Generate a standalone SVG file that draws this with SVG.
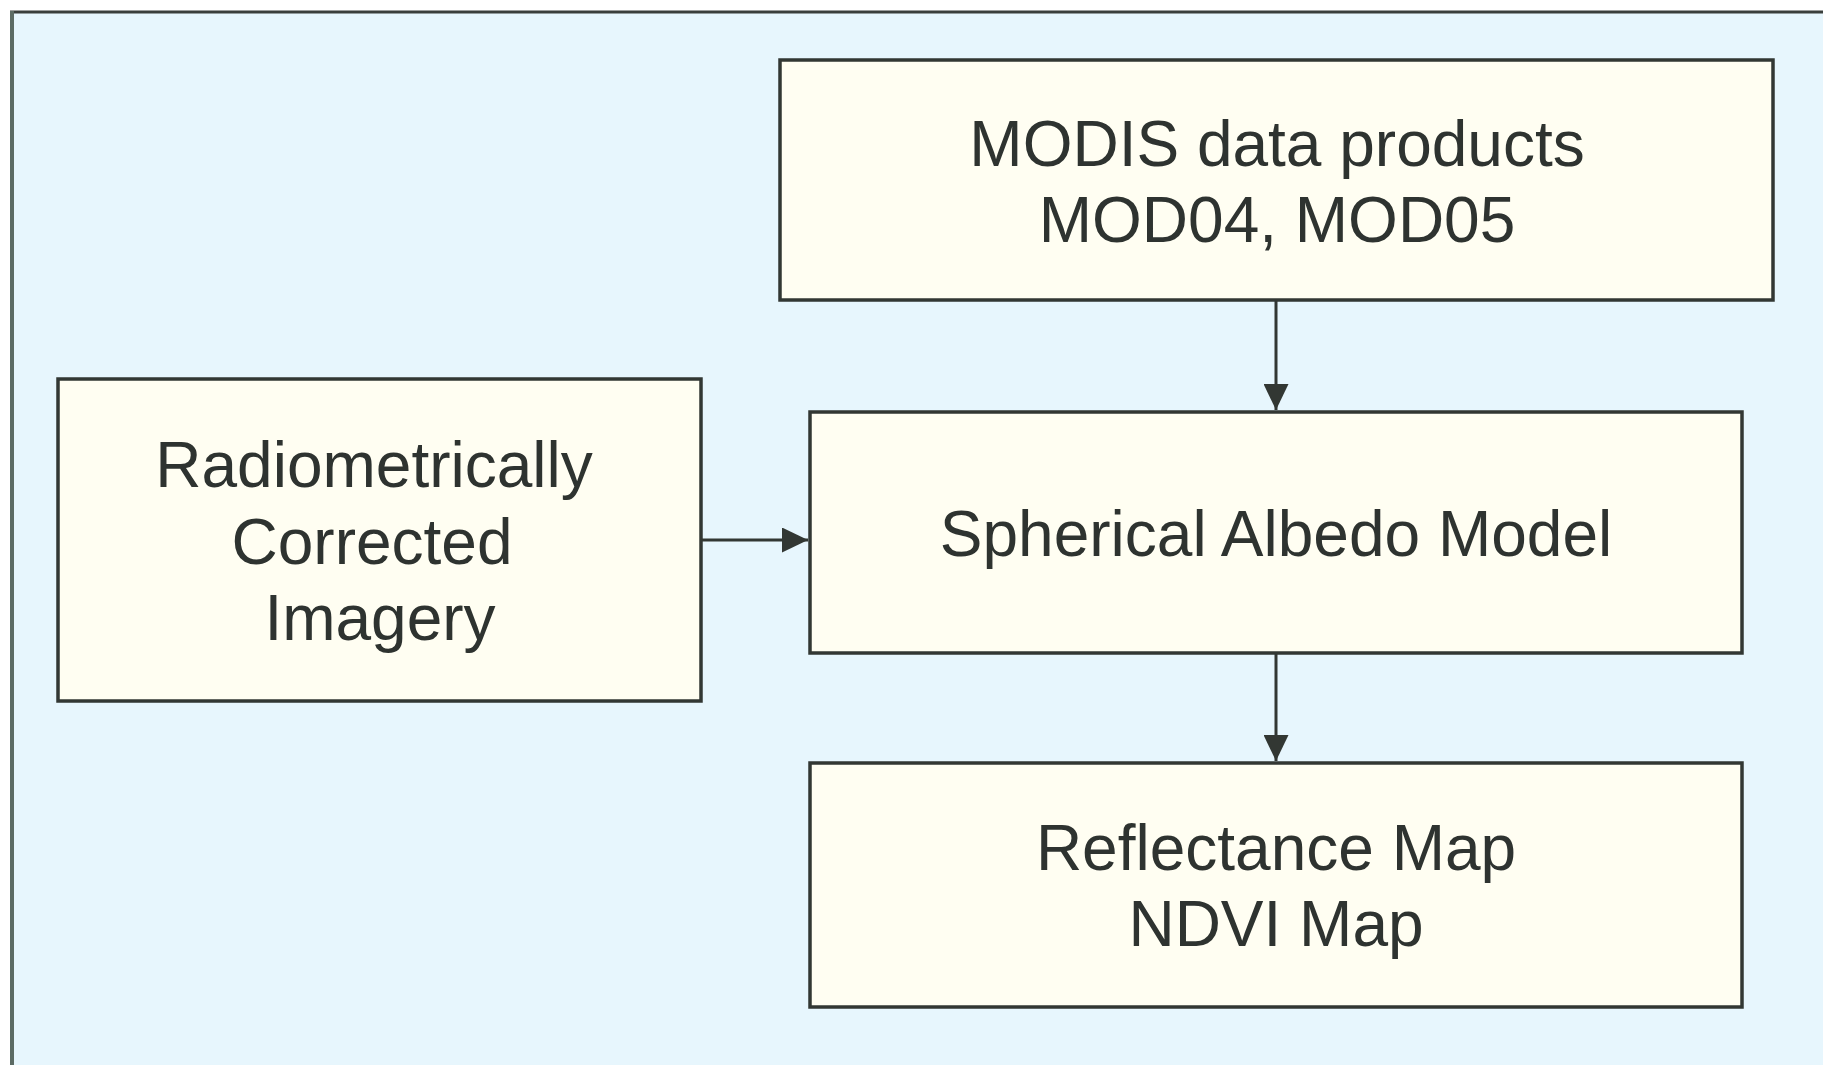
<svg xmlns="http://www.w3.org/2000/svg" width="1823" height="1065" viewBox="0 0 1823 1065">
<defs>
<style>
.box{fill:#fffef2;stroke:#323733;stroke-width:3.5}
.lbl{font-family:"Liberation Sans",Arial,sans-serif;font-size:64px;fill:#2e3330;text-anchor:middle}
.conn{stroke:#323733;stroke-width:3;fill:none}
</style>
<marker id="ah" viewBox="0 0 26 25" refX="26" refY="12.5" markerWidth="26" markerHeight="25" markerUnits="userSpaceOnUse" orient="auto">
<path d="M0,0 L26,12.5 L0,25 Z" fill="#323733"/>
</marker>
</defs>
<rect x="0" y="0" width="1823" height="1065" fill="#ffffff"/>
<g id="frame">
<rect x="12" y="12" width="1811" height="1053" fill="#e7f6fd"/>
<line x1="10" y1="12" x2="1823" y2="12" stroke="#3a3f3c" stroke-width="3"/>
<line x1="12" y1="11" x2="12" y2="1065" stroke="#5c6b64" stroke-width="4"/>
</g>
<g id="connectors">
<line class="conn" x1="1276" y1="300" x2="1276" y2="410" marker-end="url(#ah)"/>
<line class="conn" x1="701" y1="540" x2="808" y2="540" marker-end="url(#ah)"/>
<line class="conn" x1="1276" y1="653" x2="1276" y2="761" marker-end="url(#ah)"/>
</g>
<g id="modis">
<rect class="box" x="780" y="60" width="993" height="240"/>
<text class="lbl" x="1277" y="166">MODIS data products</text>
<text class="lbl" x="1277" y="242">MOD04, MOD05</text>
</g>
<g id="radiometric">
<rect class="box" x="58" y="379" width="643" height="322"/>
<text class="lbl" x="374" y="487">Radiometrically</text>
<text class="lbl" x="372" y="564">Corrected</text>
<text class="lbl" x="380" y="640">Imagery</text>
</g>
<g id="albedo">
<rect class="box" x="810" y="412" width="932" height="241"/>
<text class="lbl" x="1276" y="556">Spherical Albedo Model</text>
</g>
<g id="reflectance">
<rect class="box" x="810" y="763" width="932" height="244"/>
<text class="lbl" x="1276" y="870">Reflectance Map</text>
<text class="lbl" x="1276" y="946">NDVI Map</text>
</g>
</svg>
